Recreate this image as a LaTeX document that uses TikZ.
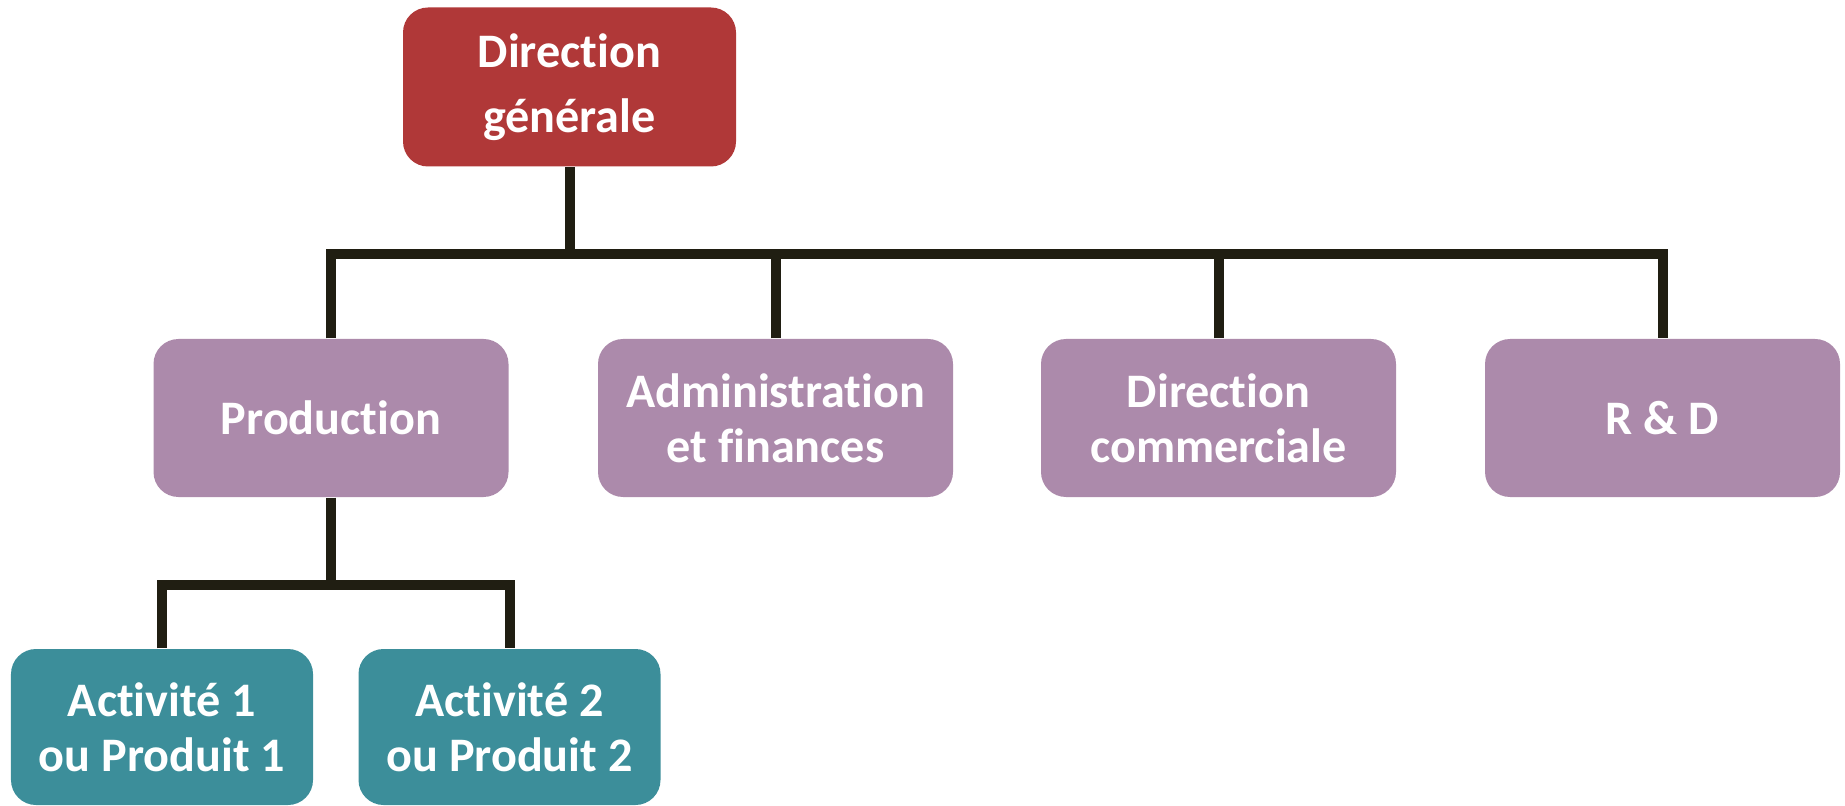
\documentclass[tikz,border=0pt]{standalone}
\usepackage{fontspec}
\setmainfont{Carlito}[Ligatures={NoCommon}]
\usetikzlibrary{positioning,calc}
\definecolor{cdirection}{HTML}{B03838}
\definecolor{cservice}{HTML}{AC8AAB}
\definecolor{cactivite}{HTML}{3C8E9A}
\definecolor{ctrait}{HTML}{201E12}
\tikzset{
  boite/.style={fill=cservice,draw=none,rounded corners=2.5mm,align=center,
                text=white,font=\fontsize{13.7}{15.6}\selectfont\bfseries,
                minimum width=35.5mm,minimum height=15.8mm,inner sep=2pt},
  boited/.style={boite,fill=cdirection,minimum width=33.3mm,minimum height=15.9mm,
                 font=\fontsize{13.7}{18.4}\selectfont\bfseries},
  boitea/.style={boite,fill=cactivite,minimum width=30.2mm,minimum height=15.6mm},
  trait/.style={draw=ctrait,line width=2.85pt},
}
\begin{document}
\begin{tikzpicture}[x=1cm,y=1cm]
\useasboundingbox (0,0) rectangle (18.45,-8.06);

\node[boited] (dg) at (5.695,-0.87) {Direction\\générale};

\node[boite] (prod) at (3.31,-4.18) {Production};
\node[boite] (adm) at (7.755,-4.18) {Administration\\et finances};
\node[boite] (com) at (12.185,-4.18) {Direction\\commerciale};
\node[boite] (rd) at (16.625,-4.18) {R \& D};

\node[boitea] (act1) at (1.62,-7.27) {Activité 1\\ou Produit 1};
\node[boitea] (act2) at (5.095,-7.27) {Activité 2\\ou Produit 2};

\coordinate (bus) at (0,-2.54);
\coordinate (sbus) at (0,-5.85);

\draw[trait] (dg.south) -- (dg.south |- bus);
\draw[trait] (prod.north) |- (rd.north |- bus) -- (rd.north);
\foreach \n in {adm,com}{\draw[trait] (\n.north) -- (\n.north |- bus);}
\draw[trait] (prod.south) -- (prod.south |- sbus);
\draw[trait] (act1.north) |- (act2.north |- sbus) -- (act2.north);

\end{tikzpicture}
\end{document}
